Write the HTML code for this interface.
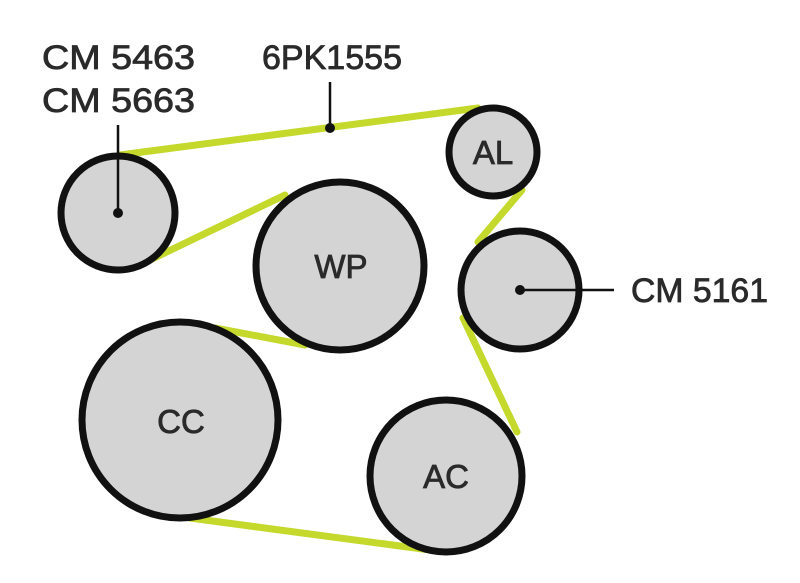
<!DOCTYPE html>
<html><head><meta charset="utf-8"><style>
html,body{margin:0;padding:0;background:#fff}
svg{display:block}
text{font-family:"Liberation Sans",sans-serif;fill:#2a2a2a;stroke:#2a2a2a;stroke-width:0.8}
</style></head><body>
<svg width="800" height="583" viewBox="0 0 800 583" xmlns="http://www.w3.org/2000/svg">
<g stroke="#c4d92c" stroke-width="7" stroke-linecap="round" fill="none">
<line x1="120" y1="155" x2="478" y2="108"/>
<line x1="150" y1="260" x2="285" y2="195"/>
<line x1="305" y1="345" x2="215" y2="328"/>
<line x1="190" y1="518" x2="430" y2="550"/>
<line x1="517" y1="432" x2="463" y2="318"/>
<line x1="478" y1="242" x2="522" y2="190"/>
</g>
<g fill="#d4d4d4" stroke="#111" stroke-width="7">
<circle cx="118" cy="213" r="57"/>
<circle cx="493" cy="152" r="44"/>
<circle cx="340" cy="266" r="84"/>
<circle cx="520" cy="290" r="59"/>
<circle cx="180" cy="420" r="98"/>
<circle cx="446" cy="476" r="76"/>
</g>
<g stroke="#111" stroke-width="2.5">
<line x1="118" y1="125" x2="118" y2="213"/>
<line x1="330" y1="82" x2="330" y2="128"/>
<line x1="520" y1="290" x2="614" y2="290"/>
</g>
<g fill="#111">
<circle cx="118" cy="213" r="5"/>
<circle cx="330" cy="128" r="5"/>
<circle cx="520" cy="290" r="5"/>
</g>
<g font-size="34">
<text x="42" y="69" textLength="153" lengthAdjust="spacingAndGlyphs">CM 5463</text>
<text x="42" y="112" textLength="153" lengthAdjust="spacingAndGlyphs">CM 5663</text>
<text x="262" y="69" textLength="140" lengthAdjust="spacingAndGlyphs">6PK1555</text>
<text x="631" y="302" textLength="137" lengthAdjust="spacingAndGlyphs">CM 5161</text>
</g>
<g font-size="33" text-anchor="middle">
<text x="493" y="164">AL</text>
<text x="341" y="278">WP</text>
<text x="181" y="433">CC</text>
<text x="446" y="488">AC</text>
</g>
</svg>
</body></html>
